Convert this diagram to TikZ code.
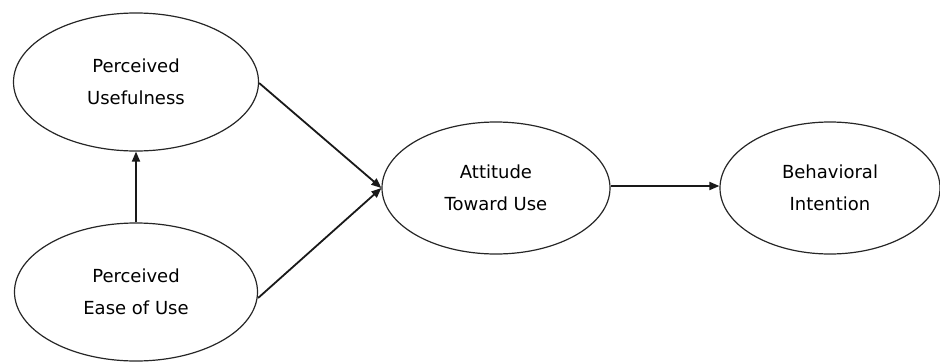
\documentclass[tikz,border=0pt]{standalone}
\usepackage{fontspec}
\setmainfont{DejaVu Sans}
\usetikzlibrary{shapes.geometric,arrows.meta}
\begin{document}
\begin{tikzpicture}[x=1pt,y=-1pt,
  construct/.style={draw=black!85, line width=1.2pt, ellipse, inner sep=0pt,
    align=center, font=\fontsize{18}{32}\selectfont},
  link/.style={draw=black!90, line width=1.8pt,
    -{Triangle[length=10pt,width=8pt]}}]
  \useasboundingbox (0,0) rectangle (940,362);
  % constructs of the model
  \node[construct, minimum width=245pt, minimum height=138pt] (pu) at (136,82)
    {Perceived\\Usefulness};
  \node[construct, minimum width=243pt, minimum height=138pt] (peou) at (136,292)
    {Perceived\\Ease of Use};
  \node[construct, minimum width=228pt, minimum height=132pt] (atu) at (496,188)
    {Attitude\\Toward Use};
  \node[construct, minimum width=220pt, minimum height=132pt] (bi) at (830,188)
    {Behavioral\\Intention};
  % causal paths
  \draw[link] (peou.north) -- (pu.south);
  \draw[link] (pu.east) ++(0,1) coordinate (pue) (pue) -- (atu.west);
  \draw[link] (peou.east) ++(0,6) coordinate (peoue) (peoue) -- (atu.west);
  \draw[link] (atu.east) ++(0,-2) coordinate (atue) (atue) -- (bi.west |- atue);
\end{tikzpicture}
\end{document}
